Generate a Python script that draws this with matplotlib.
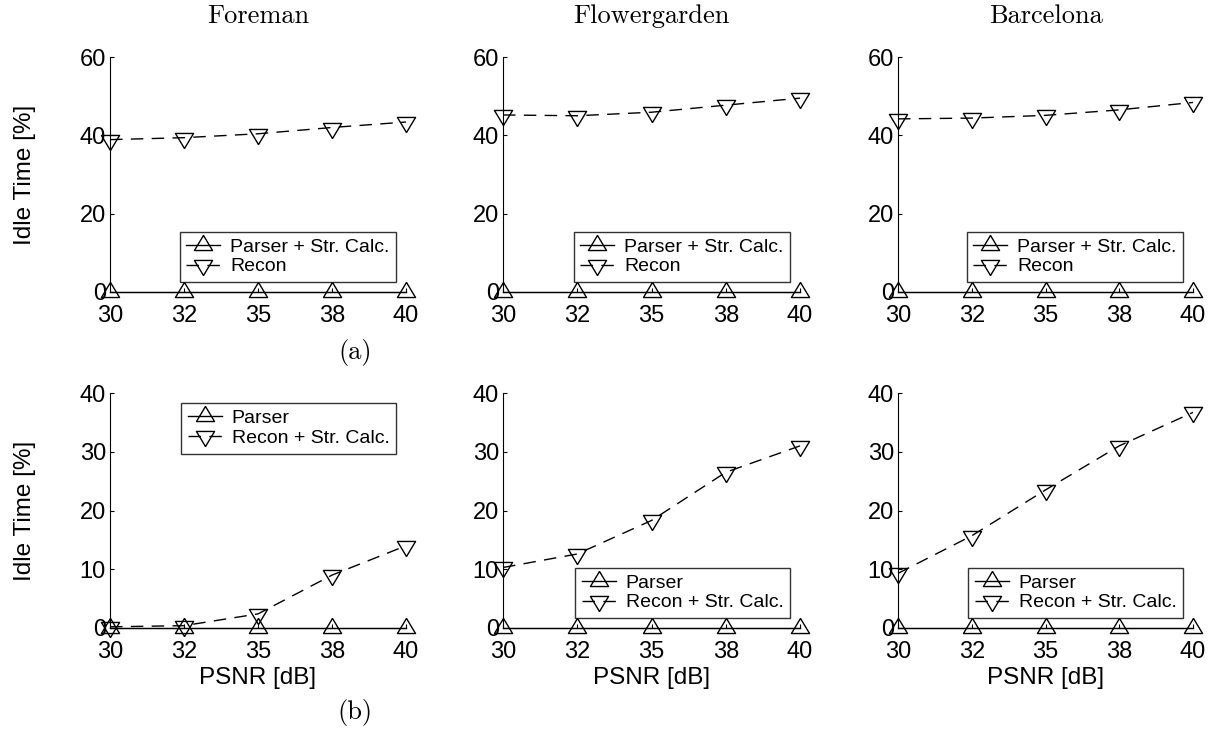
import matplotlib
matplotlib.use("Agg")
import matplotlib.pyplot as plt
import numpy as np

# datos
psnr = ["30", "32", "35", "38", "40"]
videos = ["Foreman", "Flowergarden", "Barcelona"]

# (a) fila superior
parser_str_a = {"Foreman": [0, 0, 0, 0, 0],
                "Flowergarden": [0, 0, 0, 0, 0],
                "Barcelona": [0, 0, 0, 0, 0]}
recon_a = {"Foreman": [38.9, 39.4, 40.4, 42.0, 43.4],
           "Flowergarden": [45.2, 45.0, 45.9, 47.7, 49.5],
           "Barcelona": [44.2, 44.4, 45.1, 46.5, 48.4]}

# (b) fila inferior
parser_b = {"Foreman": [0, 0, 0, 0, 0],
            "Flowergarden": [0, 0, 0, 0, 0],
            "Barcelona": [0, 0, 0, 0, 0]}
recon_str_b = {"Foreman": [0.2, 0.4, 2.4, 9.0, 14.0],
               "Flowergarden": [10.3, 12.6, 18.3, 26.5, 31.0],
               "Barcelona": [9.3, 15.7, 23.5, 31.0, 36.7]}

plt.rcParams['font.family'] = ['Liberation Sans', 'DejaVu Sans']
serif = 'cmr10'

# triangulos centrados en el baricentro (estilo matlab)
tri_up = [(0, 2), (-1.8, -1), (1.8, -1), (0, 2)]
tri_dn = [(0, -2), (-1.8, 1), (1.8, 1), (0, -2)]

fig = plt.figure(figsize=(12.15, 7.4), dpi=100)
W, H = 1215.0, 740.0
lefts = [110, 503, 898]
widths = [296, 297, 295]
rows = [(57, 292), (393, 628)]

def panel(ax, x, y1, y2, lab1, lab2, ymax, loc):
    ax.plot(x, y1, '-', color='black', lw=1.0, marker=tri_up, ms=14.5,
            mfc='none', mec='black', mew=1.0, label=lab1, clip_on=False, zorder=3)
    ax.plot(x, y2, '--', color='black', lw=1.0, dashes=(9, 6), marker=tri_dn, ms=14.5,
            mfc='none', mec='black', mew=1.0, label=lab2, clip_on=False, zorder=3)
    ax.set_xlim(0, 4)
    ax.set_ylim(0, ymax)
    ax.set_xticks(range(5))
    ax.set_xticklabels(psnr)
    ax.set_yticks(np.arange(0, ymax + 1, 20 if ymax == 60 else 10))
    ax.spines['top'].set_visible(False)
    ax.spines['right'].set_visible(False)
    ax.tick_params(direction='in', length=3, labelsize=17, pad=3)
    ax.tick_params(axis='x', pad=9)
    leg = ax.legend(loc=loc, fontsize=14, frameon=True, fancybox=False,
                    edgecolor='black', handlelength=1.75, handletextpad=0.5,
                    borderpad=0.35, labelspacing=0.1, borderaxespad=0.5)
    leg.get_frame().set_linewidth(1.0)

for i, v in enumerate(videos):
    x = np.arange(len(psnr))
    # fila (a)
    top, bot = rows[0]
    ax = fig.add_axes([lefts[i] / W, 1 - bot / H, widths[i] / W, (bot - top) / H])
    panel(ax, x, parser_str_a[v], recon_a[v], "Parser + Str. Calc.", "Recon", 60, 'lower right')
    fig.text((lefts[i] + widths[i] / 2) / W, 1 - 16 / H, v, family=serif, fontsize=19,
             ha='center', va='center')
    if i == 0:
        ax.set_ylabel("Idle Time [%]", fontsize=17.5)
        ax.yaxis.set_label_coords(-0.25, 0.5)
    # fila (b)
    top, bot = rows[1]
    ax = fig.add_axes([lefts[i] / W, 1 - bot / H, widths[i] / W, (bot - top) / H])
    panel(ax, x, parser_b[v], recon_str_b[v], "Parser", "Recon + Str. Calc.", 40,
          'upper right' if i == 0 else 'lower right')
    ax.set_xlabel("PSNR [dB]", fontsize=17.5, labelpad=3)
    if i == 0:
        ax.set_ylabel("Idle Time [%]", fontsize=17.5)
        ax.yaxis.set_label_coords(-0.25, 0.5)

fig.text(355 / W, 1 - 352 / H, "(a)", family=serif, fontsize=19, ha='center', va='center')
fig.text(355 / W, 1 - 712 / H, "(b)", family=serif, fontsize=19, ha='center', va='center')

fig.savefig("out.png", dpi=100)
